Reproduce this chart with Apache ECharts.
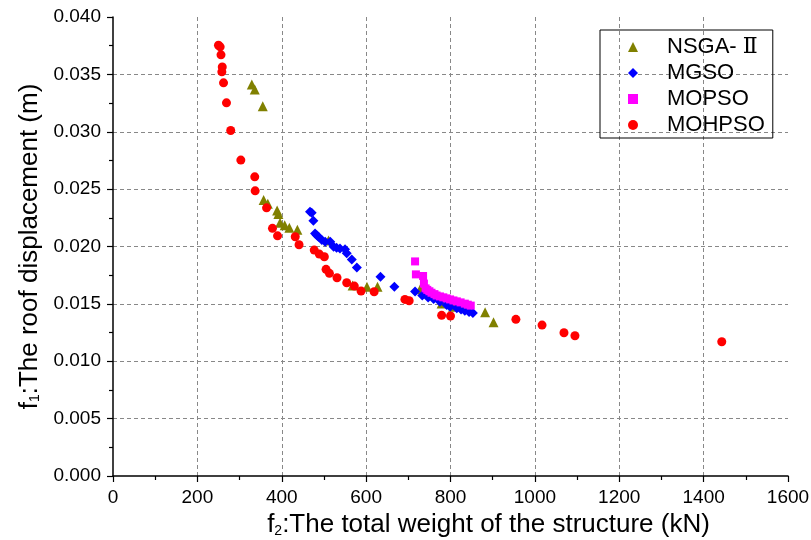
<!DOCTYPE html>
<html>
<head>
<meta charset="utf-8">
<script src="https://cdn.jsdelivr.net/npm/echarts@6/dist/echarts.min.js"></script>
<style>
  html, body { margin: 0; padding: 0; background: #fff; }
  #chart { width: 811px; height: 540px; }
</style>
</head>
<body>
<div id="chart"></div>
<script>
// [f2 weight (kN), f1 roof displacement (m)]
const nsga2 = [
  [329, 0.03412], [336, 0.03368], [355, 0.03223], [357, 0.02405], [367, 0.02372],
  [389, 0.02314], [392, 0.02284], [396, 0.02207], [407, 0.02185], [418, 0.02163],
  [437, 0.02146], [511, 0.02053], [568, 0.01660], [602, 0.01649], [627, 0.01649],
  [728, 0.01628], [779, 0.01504], [806, 0.01475], [882, 0.01426], [902, 0.01340]
];
const mgso = [
  [467, 0.02302], [471, 0.02294], [475, 0.02224], [479, 0.02114], [483, 0.02099],
  [487, 0.02085], [495, 0.02056], [503, 0.02041], [515, 0.02041], [523, 0.01997],
  [530, 0.01990], [538, 0.01983], [550, 0.01975], [554, 0.01942], [566, 0.01887],
  [578, 0.01816], [634, 0.01736], [667, 0.01649], [716, 0.01608], [733, 0.01574],
  [747, 0.01555], [760, 0.01542], [775, 0.01518], [791, 0.01490], [799, 0.01475],
  [815, 0.01461], [825, 0.01450], [834, 0.01440], [844, 0.01429], [853, 0.01421]
];
const mopso = [
  [716, 0.01870], [718, 0.01757], [735, 0.01743], [737, 0.01677], [741, 0.01635],
  [745, 0.01622], [750, 0.01610], [755, 0.01597], [762, 0.01585], [767, 0.01573],
  [775, 0.01565], [783, 0.01557], [791, 0.01548], [799, 0.01539], [807, 0.01530],
  [815, 0.01522], [824, 0.01513], [834, 0.01502], [841, 0.01493], [848, 0.01485]
];
const mohpso = [
  [250, 0.03754], [254, 0.03740], [256, 0.03670], [259, 0.03565], [258, 0.03522],
  [262, 0.03426], [269, 0.03252], [279, 0.03011], [303, 0.02753], [336, 0.02607],
  [337, 0.02485], [364, 0.02337], [378, 0.02158], [390, 0.02093], [432, 0.02085],
  [441, 0.02015], [477, 0.01969], [489, 0.01934], [501, 0.01911], [505, 0.01801],
  [513, 0.01766], [531, 0.01728], [554, 0.01684], [572, 0.01655], [588, 0.01612],
  [619, 0.01606], [692, 0.01539], [702, 0.01527], [779, 0.01400], [800, 0.01394],
  [955, 0.01365], [1017, 0.01315], [1069, 0.01248], [1095, 0.01222], [1443, 0.01170]
];
const seriesNames = ['NSGA-Ⅱ', 'MGSO', 'MOPSO', 'MOHPSO'];

const font = 'Liberation Sans, Arial, sans-serif';
const axisCommon = {
  axisLine: { show: true, lineStyle: { color: '#000', width: 1.5 } },
  axisTick: { show: true, inside: false, length: 6, lineStyle: { color: '#000', width: 1.2 } },
  minorTick: { show: true, splitNumber: 2, length: 4, lineStyle: { color: '#000', width: 1.2 } },
  splitLine: {
    show: true, showMinLine: false, showMaxLine: false,
    lineStyle: { color: '#888', type: [4, 3], width: 1 }
  },
  axisLabel: { color: '#000', fontSize: 19, fontFamily: font, margin: 12 }
};
const nameRich = {
  a: { fontSize: 26, fontFamily: font, color: '#000' },
  s: { fontSize: 14, fontFamily: font, color: '#000', verticalAlign: 'bottom', lineHeight: 14 }
};

const chart = echarts.init(document.getElementById('chart'));
chart.setOption({
  animation: false,
  backgroundColor: '#fff',
  grid: { left: 113, top: 17, width: 675, height: 459, outerBoundsMode: 'none', containLabel: false },
  legend: {
    orient: 'vertical',
    left: 600,
    top: 30,
    data: seriesNames,
    borderColor: '#000',
    borderWidth: 1,
    padding: [6, 8, 2, 28],
    itemWidth: 10,
    itemHeight: 10,
    itemGap: 4,
    formatter: name => name === 'NSGA-Ⅱ' ? '{a|NSGA- }{r|Ⅱ}' : '{a|' + name + '}',
    textStyle: {
      fontSize: 22, fontFamily: font, color: '#000', lineHeight: 22, padding: [0, 0, 0, 24],
      rich: {
        a: { fontSize: 22, fontFamily: font, color: '#000', lineHeight: 22 },
        r: { fontSize: 22, fontFamily: 'DejaVu Serif', color: '#000', lineHeight: 22 }
      }
    }
  },
  xAxis: Object.assign({}, axisCommon, {
    type: 'value', min: 0, max: 1600, interval: 200,
    name: '{a|f}{s|2}{a|:The total weight of the structure (kN)}',
    nameLocation: 'middle', nameGap: 36,
    nameTextStyle: { rich: nameRich, padding: [0, 0, 0, 76] },
    axisLabel: Object.assign({}, axisCommon.axisLabel, { formatter: v => String(v) })
  }),
  yAxis: Object.assign({}, axisCommon, {
    type: 'value', min: 0, max: 0.04, interval: 0.005,
    name: '{a|f}{s|1}{a|:The roof displacement (m)}',
    nameLocation: 'middle', nameGap: 70,
    nameTextStyle: { rich: nameRich },
    axisLabel: Object.assign({}, axisCommon.axisLabel, { formatter: v => v.toFixed(3) })
  }),
  series: [
    { name: seriesNames[0], type: 'scatter', symbol: 'triangle', symbolSize: 10, data: nsga2, itemStyle: { color: '#808000', opacity: 1 } },
    { name: seriesNames[1], type: 'scatter', symbol: 'diamond', symbolSize: 10, data: mgso, itemStyle: { color: '#0000FF', opacity: 1 } },
    { name: seriesNames[2], type: 'scatter', symbol: 'rect', symbolSize: 8, data: mopso, itemStyle: { color: '#FF00FF', opacity: 1 } },
    { name: seriesNames[3], type: 'scatter', symbol: 'circle', symbolSize: 9, data: mohpso, itemStyle: { color: '#FF0000', opacity: 1 } }
  ]
});
</script>
</body>
</html>
